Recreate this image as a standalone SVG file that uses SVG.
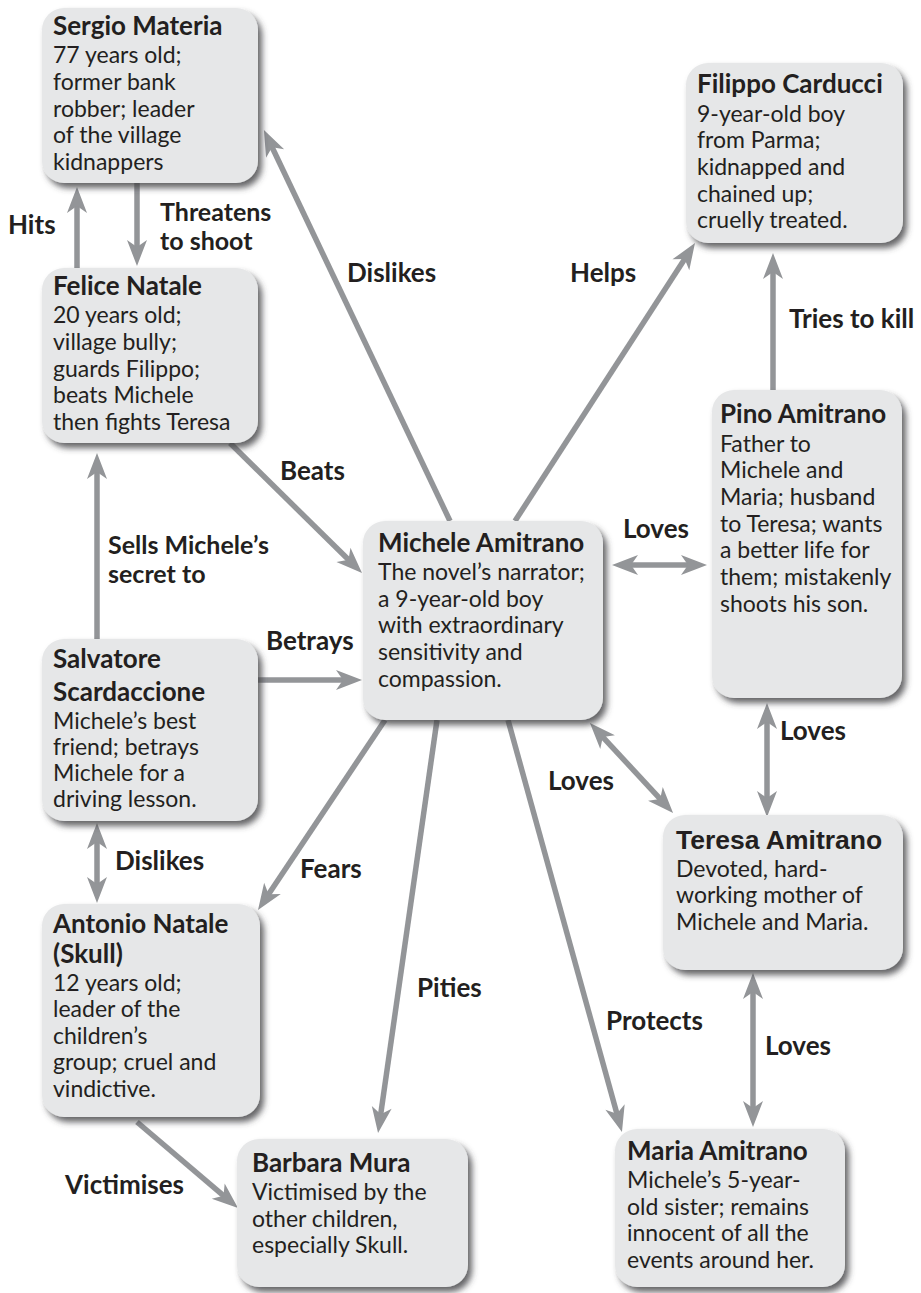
<svg xmlns="http://www.w3.org/2000/svg" width="921" height="1293" viewBox="0 0 921 1293">
<defs>
<style>
.box{fill:#e6e7e8;filter:url(#sh)}
.t{font-family:Lato,"Open Sans",sans-serif;font-weight:bold;font-size:26px;fill:#231f20}
.ta{font-family:"Liberation Sans",Arial,sans-serif;font-weight:bold;font-size:26.5px;fill:#231f20}
.b{font-family:Lato,"Open Sans",sans-serif;font-size:23px;fill:#231f20}
.l{font-family:Lato,"Open Sans",sans-serif;font-weight:bold;font-size:26px;fill:#231f20}
.l2{font-family:Lato,"Open Sans",sans-serif;font-weight:bold;font-size:25px;fill:#231f20}
.c{stroke:#939598;stroke-width:5.5;fill:none}
.a{marker-end:url(#ah)}
.d{marker-start:url(#ah);marker-end:url(#ah)}
</style>
<filter id="sh" x="-10%" y="-10%" width="125%" height="125%">
<feDropShadow dx="4" dy="5" stdDeviation="3" flood-color="#414042" flood-opacity="0.8"/>
</filter>
<marker id="ah" markerUnits="userSpaceOnUse" viewBox="0 -12 28 24" markerWidth="28" markerHeight="24" refX="10" refY="0" orient="auto-start-reverse" overflow="visible">
<path d="M26,0 L0,-10 L7,0 L0,10 Z" fill="#939598"/>
</marker>
</defs>
<rect width="921" height="1293" fill="#ffffff"/>
<g id="connectors">
<line class="c a" x1="77" y1="268" x2="77" y2="203"/>
<line class="c a" x1="137" y1="183" x2="137" y2="250"/>
<line class="c a" x1="450" y1="521" x2="270.8" y2="144.5"/>
<line class="c a" x1="515" y1="521" x2="686.3" y2="256.4"/>
<line class="c a" x1="773" y1="390" x2="773" y2="269"/>
<line class="c a" x1="230" y1="443" x2="350.6" y2="561.8"/>
<line class="c a" x1="97" y1="639" x2="97" y2="469"/>
<line class="c a" x1="258" y1="680" x2="346" y2="680"/>
<line class="c d" x1="628" y1="565" x2="691" y2="565"/>
<line class="c d" x1="767" y1="719" x2="767" y2="801"/>
<line class="c d" x1="600.8" y1="734.8" x2="662.2" y2="801.2"/>
<line class="c d" x1="753" y1="989" x2="753" y2="1111"/>
<line class="c d" x1="97" y1="839" x2="97" y2="887"/>
<line class="c a" x1="385" y1="720" x2="266.9" y2="896.7"/>
<line class="c a" x1="437" y1="720" x2="380.3" y2="1117.2"/>
<line class="c a" x1="508" y1="720" x2="617.7" y2="1116.6"/>
<line class="c a" x1="137" y1="1122" x2="225.8" y2="1197.6"/>
</g>
<g id="labels">
<text class="l" x="8" y="234">Hits</text>
<text class="l2" x="160" y="221">Threatens</text>
<text class="l2" x="160" y="250">to shoot</text>
<text class="l" x="347" y="282">Dislikes</text>
<text class="l" x="570" y="282">Helps</text>
<text class="l" x="789" y="328">Tries to kill</text>
<text class="l" x="280" y="480">Beats</text>
<text class="l2" x="108" y="554">Sells Michele’s</text>
<text class="l2" x="108" y="583">secret to</text>
<text class="l" x="266" y="650">Betrays</text>
<text class="l" x="623" y="538">Loves</text>
<text class="l" x="780" y="740">Loves</text>
<text class="l" x="548" y="790">Loves</text>
<text class="l" x="765" y="1055">Loves</text>
<text class="l" x="115" y="870">Dislikes</text>
<text class="l" x="300" y="878">Fears</text>
<text class="l" x="417" y="997">Pities</text>
<text class="l" x="606" y="1030">Protects</text>
<text class="l" x="65" y="1194">Victimises</text>
</g>
<g id="sergio">
<rect class="box" x="42" y="8" width="216" height="175" rx="22"/>
<text class="t" x="53" y="35">Sergio Materia</text>
<text class="b" x="53" y="63">77 years old;</text>
<text class="b" x="53" y="90">former bank</text>
<text class="b" x="53" y="117">robber; leader</text>
<text class="b" x="53" y="143">of the village</text>
<text class="b" x="53" y="170">kidnappers</text>
</g>
<g id="felice">
<rect class="box" x="42" y="268" width="216" height="175" rx="22"/>
<text class="t" x="53" y="295">Felice Natale</text>
<text class="b" x="53" y="323">20 years old;</text>
<text class="b" x="53" y="350">village bully;</text>
<text class="b" x="53" y="377">guards Filippo;</text>
<text class="b" x="53" y="403">beats Michele</text>
<text class="b" x="53" y="430">then fights Teresa</text>
</g>
<g id="salvatore">
<rect class="box" x="42" y="639" width="216" height="182" rx="22"/>
<text class="t" x="53" y="668">Salvatore</text>
<text class="t" x="53" y="701">Scardaccione</text>
<text class="b" x="53" y="729">Michele’s best</text>
<text class="b" x="53" y="755">friend; betrays</text>
<text class="b" x="53" y="781">Michele for a</text>
<text class="b" x="53" y="807">driving lesson.</text>
</g>
<g id="antonio">
<rect class="box" x="42" y="904" width="218" height="213" rx="22"/>
<text class="t" x="53" y="933">Antonio Natale</text>
<text class="t" x="53" y="963">(Skull)</text>
<text class="b" x="53" y="991">12 years old;</text>
<text class="b" x="53" y="1017">leader of the</text>
<text class="b" x="53" y="1044">children’s</text>
<text class="b" x="53" y="1070">group; cruel and</text>
<text class="b" x="53" y="1097">vindictive.</text>
</g>
<g id="barbara">
<rect class="box" x="237" y="1139" width="231" height="148" rx="22"/>
<text class="t" x="252" y="1172">Barbara Mura</text>
<text class="b" x="252" y="1200">Victimised by the</text>
<text class="b" x="252" y="1227">other children,</text>
<text class="b" x="252" y="1253">especially Skull.</text>
</g>
<g id="michele">
<rect class="box" x="363" y="521" width="240" height="199" rx="22"/>
<text class="t" x="378" y="552">Michele Amitrano</text>
<text class="b" x="378" y="580">The novel’s narrator;</text>
<text class="b" x="378" y="607">a 9-year-old boy</text>
<text class="b" x="378" y="633">with extraordinary</text>
<text class="b" x="378" y="660">sensitivity and</text>
<text class="b" x="378" y="687">compassion.</text>
</g>
<g id="filippo">
<rect class="box" x="686" y="63" width="217" height="180" rx="22"/>
<text class="t" x="697" y="93">Filippo Carducci</text>
<text class="b" x="697" y="122">9-year-old boy</text>
<text class="b" x="697" y="148">from Parma;</text>
<text class="b" x="697" y="175">kidnapped and</text>
<text class="b" x="697" y="202">chained up;</text>
<text class="b" x="697" y="228">cruelly treated.</text>
</g>
<g id="pino">
<rect class="box" x="712" y="390" width="190" height="308" rx="22"/>
<text class="t" x="720" y="423">Pino Amitrano</text>
<text class="b" x="720" y="452">Father to</text>
<text class="b" x="720" y="478">Michele and</text>
<text class="b" x="720" y="505">Maria; husband</text>
<text class="b" x="720" y="532">to Teresa; wants</text>
<text class="b" x="720" y="558">a better life for</text>
<text class="b" x="720" y="585">them; mistakenly</text>
<text class="b" x="720" y="612">shoots his son.</text>
</g>
<g id="teresa">
<rect class="box" x="663" y="815" width="240" height="155" rx="22"/>
<text class="ta" x="676" y="849">Teresa Amitrano</text>
<text class="b" x="676" y="877">Devoted, hard-</text>
<text class="b" x="676" y="903">working mother of</text>
<text class="b" x="676" y="930">Michele and Maria.</text>
</g>
<g id="maria">
<rect class="box" x="615" y="1129" width="230" height="158" rx="22"/>
<text class="t" x="627" y="1160">Maria Amitrano</text>
<text class="b" x="627" y="1188">Michele’s 5-year-</text>
<text class="b" x="627" y="1215">old sister; remains</text>
<text class="b" x="627" y="1241">innocent of all the</text>
<text class="b" x="627" y="1268">events around her.</text>
</g>
</svg>
